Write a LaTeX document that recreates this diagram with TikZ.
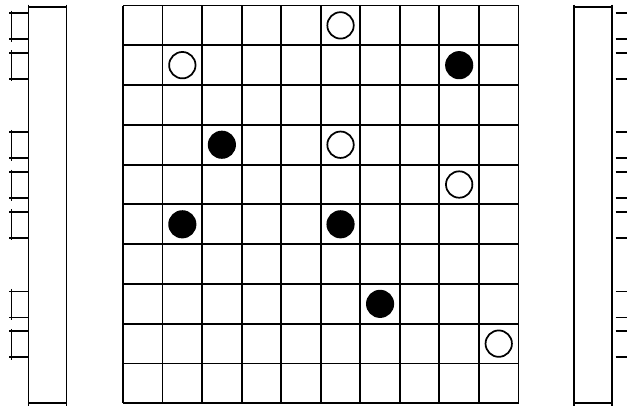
\documentclass[tikz,border=0pt]{standalone}
\begin{document}
\begin{tikzpicture}[x=0.75pt,y=-0.75pt,line width=1.4pt,
  stone/.style={circle,draw=black,line width=1.3pt,minimum size=19.8pt,inner sep=0pt},
  wstone/.style={stone,fill=white},
  bstone/.style={stone,fill=black},
  gridline/.style={line width=1.4pt,black},
  barline/.style={line width=1.4pt,black}]
\useasboundingbox (0,0) rectangle (627,408);
% grid
\foreach \i in {0,...,10} {
  \draw[gridline] (123+\i*39.55,5.5) -- (123+\i*39.55,403.3);
  \draw[gridline] (123,5.5+\i*39.78) -- (518.5,5.5+\i*39.78);
}
% stones
\foreach \c/\r/\s [count=\k] in {5/0/wstone,1/1/wstone,8/1/bstone,2/3/bstone,5/3/wstone,8/4/wstone,1/5/bstone,5/5/bstone,6/7/bstone,9/8/wstone} {
  \node[\s] (s\k) at (123+\c*39.55+19.78,5.5+\r*39.78+19.89) {};
}
% left bar
\draw[barline] (28.5,7) rectangle (66.5,403.3);
\foreach \x in {28.5,66.5} {
  \draw[barline] (\x,4.5) -- (\x,9);
  \draw[barline] (\x,401) -- (\x,405.5);
}
% right bar
\draw[barline] (574,7) rectangle (612,403.3);
\foreach \x in {574,612} {
  \draw[barline] (\x,4.5) -- (\x,9);
  \draw[barline] (\x,401) -- (\x,405.5);
}
% brackets
\foreach \r in {0,1,3,4,5,7,8} {
  \pgfmathsetmacro{\t}{5.5+\r*39.78+7.5}
  \pgfmathsetmacro{\b}{5.5+\r*39.78+33.5}
  \draw[barline] (28.5,\t) -- (8.5,\t);
  \draw[barline] (28.5,\b) -- (8.5,\b);
  \draw[barline] (11.5,\t-2.5) -- (11.5,\b+2.5);
  \draw[barline] (615.7,\t) -- (627,\t);
  \draw[barline] (615.7,\b) -- (627,\b);
}
\end{tikzpicture}
\end{document}
